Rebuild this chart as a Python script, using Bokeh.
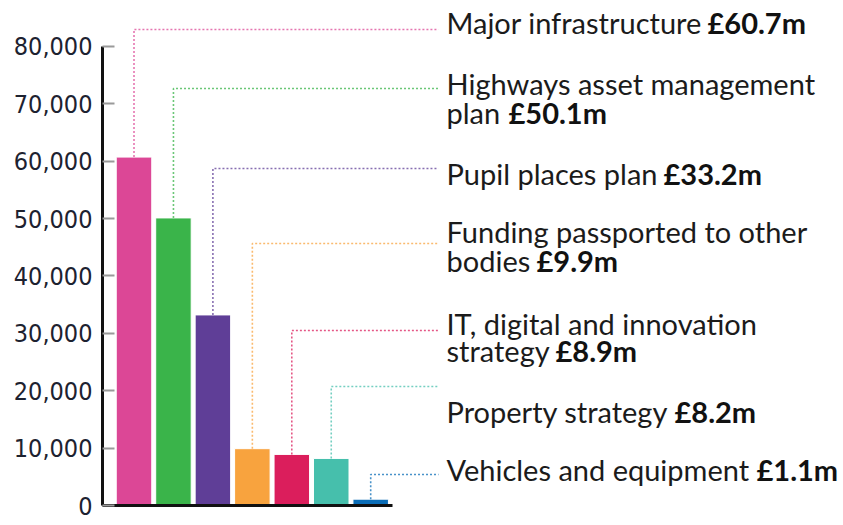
from bokeh.plotting import figure
from bokeh.models import Range1d, FixedTicker, NumeralTickFormatter, ColumnDataSource
from bokeh.core.properties import value
from bokeh.embed import file_html
from bokeh.resources import INLINE

# ---------------- data ----------------
categories = [
    "Major infrastructure",
    "Highways asset management plan",
    "Pupil places plan",
    "Funding passported to other bodies",
    "IT, digital and innovation strategy",
    "Property strategy",
    "Vehicles and equipment",
]
spend = [60700, 50100, 33200, 9900, 8900, 8200, 1100]          # £ thousands
amount_labels = ["£60.7m", "£50.1m", "£33.2m", "£9.9m", "£8.9m", "£8.2m", "£1.1m"]
y_ticks = [0, 10000, 20000, 30000, 40000, 50000, 60000, 70000, 80000]

# label text split into lines (bold amount is appended to the last line)
label_lines = [
    ["Major infrastructure"],
    ["Highways asset management", "plan"],
    ["Pupil places plan"],
    ["Funding passported to other", "bodies"],
    ["IT, digital and innovation", "strategy"],
    ["Property strategy"],
    ["Vehicles and equipment"],
]

# ---------------- style / layout ----------------
colors = ["#DC4796", "#3AB44A", "#5F3E97", "#F8A33E", "#DB1E5C", "#46BFAC", "#0B6DB7"]

W, H = 842, 522
LEFT, RIGHT, TOP, BOTTOM = 102, 0, 12, 17
FRAME_W = W - LEFT - RIGHT
FRAME_H = H - TOP - BOTTOM
PX_PER_UNIT_X = 39.45        # pixels between bar centres
PX_PER_UNIT_Y = 5.74 / 1000  # pixels per £ thousand
X0_PX = 133.5                # first bar centre, page px
X_START = (LEFT - X0_PX) / PX_PER_UNIT_X
X_END = X_START + FRAME_W / PX_PER_UNIT_X
Y_END = FRAME_H / PX_PER_UNIT_Y
BASE_PX = TOP + FRAME_H      # page y of value 0
TEXT_SHIFT = 14              # renderer draws text baseline this much lower


def px_x(px):
    return X_START + (px - LEFT) / PX_PER_UNIT_X


def px_y(py):
    return (BASE_PX - py) / PX_PER_UNIT_Y


# connector levels and label placement, in page-pixel layout
connector_rows_px = [29, 88, 168, 243, 330, 386, 474]
connector_end_px = 438
label_x_px = 446
label_baselines_px = [[36], [97, 126], [187], [245, 274], [337, 364], [425], [483]]
bold_x_px = [707, 508, 663, 536, 555, 674, 756]

FONT = "Lato"
FS = "29px"

p = figure(
    width=W, height=H,
    x_range=Range1d(X_START, X_END), y_range=Range1d(0, Y_END),
    output_backend="svg", toolbar_location=None,
    min_border_left=LEFT, min_border_right=RIGHT,
    min_border_top=TOP, min_border_bottom=BOTTOM,
)
p.outline_line_color = None
p.grid.visible = False
p.background_fill_color = "white"
p.border_fill_color = "white"

idx = list(range(len(spend)))
src = ColumnDataSource(dict(x=idx, top=spend, color=colors, cat=categories))
p.vbar(x="x", top="top", width=0.9, bottom=0, fill_color="color",
       line_color="white", line_width=1, source=src)

# dotted connectors
for i, v in enumerate(spend):
    lvl = px_y(connector_rows_px[i])
    p.line([i, i, px_x(connector_end_px)], [v, lvl, lvl],
           line_color=colors[i], line_alpha=0.75, line_width=1.6, line_dash="2 2")

# labels
for i, lines in enumerate(label_lines):
    for j, txt in enumerate(lines):
        p.text(x=[px_x(label_x_px)], y=[px_y(label_baselines_px[i][j] - TEXT_SHIFT)], text=[txt],
               text_font=value(FONT), text_font_size=FS, text_color="#1b1b1b",
               text_baseline="alphabetic", text_align="left")
    p.text(x=[px_x(bold_x_px[i])], y=[px_y(label_baselines_px[i][-1] - TEXT_SHIFT)],
           text=[amount_labels[i]],
           text_font=value(FONT), text_font_size=FS, text_font_style="bold",
           text_color="#111111", text_baseline="alphabetic", text_align="left")

# y axis
ya = p.yaxis[0]
ya.ticker = FixedTicker(ticks=y_ticks)
ya.formatter = NumeralTickFormatter(format="0,0")
ya.bounds = (0, 80000)
ya.axis_line_color = "#111111"
ya.axis_line_width = 3
ya.major_tick_in = 12
ya.major_tick_out = 0
ya.major_tick_line_color = "#9a9a9a"
ya.major_tick_line_width = 2
ya.minor_tick_line_color = None
ya.major_label_standoff = 10
ya.major_label_text_font = "'Liberation Sans Narrow', 'DejaVu Sans Condensed', 'Roboto Condensed', 'DejaVu Sans', sans-serif"
ya.major_label_text_font_size = "25px"
ya.major_label_text_color = "#1d2230"

# x axis: baseline only
xa = p.xaxis[0]
xa.ticker = FixedTicker(ticks=[])
xa.bounds = (X_START, px_x(392))
xa.axis_line_color = "#111111"
xa.axis_line_width = 3
xa.major_tick_line_color = None
xa.minor_tick_line_color = None
xa.major_label_text_font_size = "0px"
xa.major_label_standoff = 0

open("out.html", "w").write(file_html(p, INLINE))
